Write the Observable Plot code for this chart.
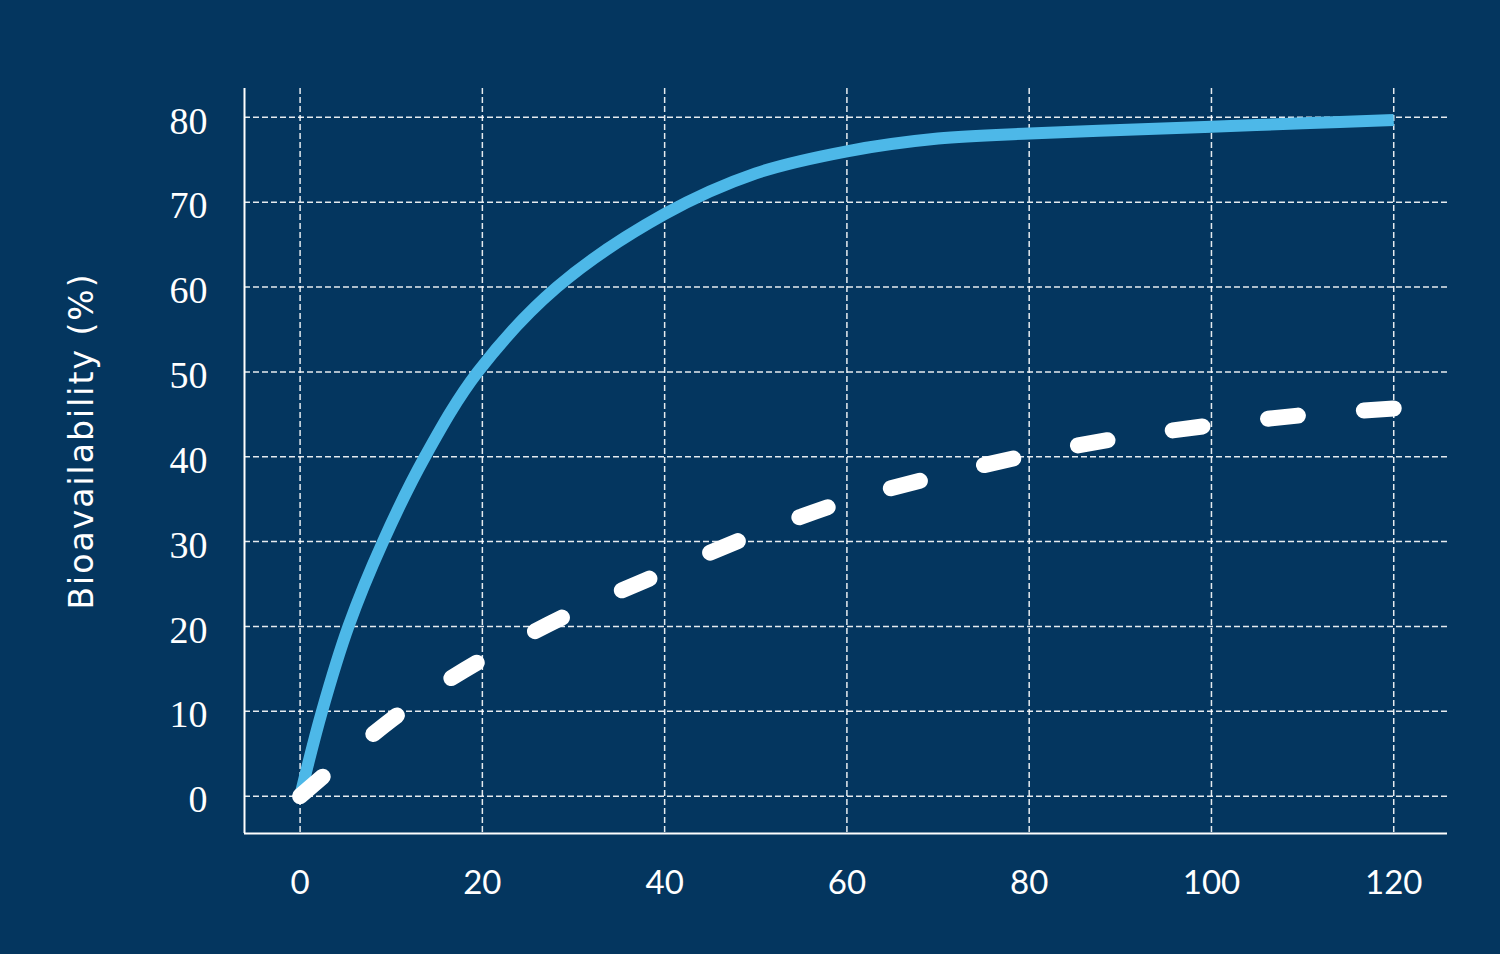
<!DOCTYPE html>
<html><head><meta charset="utf-8">
<script src="https://cdn.jsdelivr.net/npm/d3@7"></script>
<script src="https://cdn.jsdelivr.net/npm/@observablehq/plot@0.6"></script>
<style>
html,body{margin:0;padding:0;background:#04365f;overflow:hidden;}
#chart svg{display:block;}
</style>
</head><body><div id="chart"></div>
<script>
// Solid series (blue)
const solidX = [0, 2.4, 5.3, 9.1, 13.7, 19.5, 28.2, 40, 50, 60, 70, 80, 90, 100, 110, 120];
const solidY = [0, 10, 20, 30, 40, 50, 60, 68.6, 73.4, 76.0, 77.5, 78.1, 78.5, 78.9, 79.3, 79.7];
// Dashed series (white)
const dashedX = [0, 5, 10, 15, 20, 30, 40, 50, 60, 70, 80, 90, 100, 110, 120];
const dashedY = [0, 4.6, 9.0, 12.8, 16.1, 21.7, 26.4, 30.9, 34.8, 37.7, 40.2, 42.2, 43.7, 44.9, 45.7];
// Ticks & labels
const xTicks = [0, 20, 40, 60, 80, 100, 120];
const yTicks = [0, 10, 20, 30, 40, 50, 60, 70, 80];
const xDomain = [-6.1, 125.9];
const yDomain = [-4.4, 83.4];
const yTitle = ["Bioavailability (%)"];

const solid = solidX.map((x, i) => ({x, y: solidY[i]}));
const dashed = dashedX.map((x, i) => ({x, y: dashedY[i]}));

const chart = Plot.plot({
  width: 1500,
  height: 954,
  marginLeft: 244,
  marginRight: 53,
  marginTop: 88,
  marginBottom: 121,
  style: {background: "#04365f", color: "white", overflow: "visible"},
  x: {domain: xDomain},
  y: {domain: yDomain},
  marks: [
    Plot.gridX(xTicks, {stroke: "white", strokeOpacity: 0.9, strokeWidth: 1.5, strokeDasharray: "6,3"}),
    Plot.gridY(yTicks, {stroke: "white", strokeOpacity: 0.9, strokeWidth: 1.5, strokeDasharray: "6,3"}),
    Plot.ruleX([xDomain[0]], {stroke: "white", strokeWidth: 2}),
    Plot.ruleY([yDomain[0]], {stroke: "white", strokeWidth: 2}),
    Plot.axisX(xTicks, {tickSize: 0, tickPadding: 37, fontSize: 33, fontFamily: "Lato", fill: "white", label: null}),
    Plot.axisY(yTicks, {tickSize: 0, tickPadding: 37, fontSize: 38, fontFamily: "Liberation Serif", fill: "white", label: null, dy: 4}),
    Plot.text(yTitle, {frameAnchor: "left", textAnchor: "middle", rotate: -90, dx: -162, dy: -20, fontSize: 33, fontFamily: "DejaVu Sans", fill: "white"}),
    Plot.line(solid, {x: "x", y: "y", stroke: "#4db8e8", strokeWidth: 12, curve: "catmull-rom", strokeLinecap: "butt"}),
    Plot.line(dashed, {x: "x", y: "y", stroke: "white", strokeWidth: 16, curve: "catmull-rom", strokeLinecap: "round", strokeDasharray: "30,66"})
  ]
});
d3.select(chart).selectAll("text")
  .filter(function() { return this.textContent === yTitle[0]; })
  .attr("letter-spacing", "2px");
document.getElementById("chart").appendChild(chart);
</script></body></html>
